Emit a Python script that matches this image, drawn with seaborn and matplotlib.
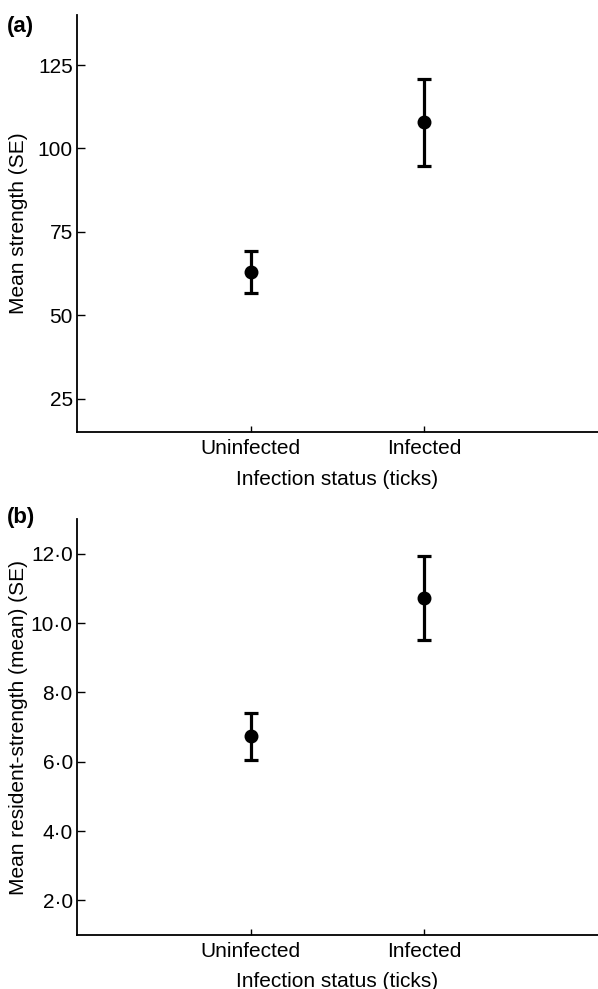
import matplotlib
matplotlib.use("Agg")
import matplotlib.pyplot as plt
import seaborn as sns
import pandas as pd
from matplotlib.ticker import FuncFormatter

# Values
status = ["Uninfected", "Infected"]
strength_mean = [63.0, 107.8]
strength_se = [6.3, 13.0]
resident_mean = [6.73, 10.72]
resident_se = [0.67, 1.22]

sns.set_style("white")
plt.rcParams["font.family"] = ["Liberation Sans", "DejaVu Sans"]
plt.rcParams["font.size"] = 15
for key in ["text.color", "axes.labelcolor", "xtick.color", "ytick.color"]:
    plt.rcParams[key] = "black"

FS = 15


def draw_panel(ax, means, ses, ylabel, yticks, ylim, fmt, xlab_y):
    df = pd.DataFrame({"status": status, "value": means})
    sns.pointplot(
        data=df, x="status", y="value", order=status, color="black",
        linestyle="none", markers="o", errorbar=None, ax=ax,
        markersize=8, zorder=3,
    )
    ax.errorbar(
        range(len(status)), means, yerr=ses, fmt="none", ecolor="black",
        elinewidth=2.3, capsize=4.7, capthick=2.3, zorder=2,
    )
    ax.set_xlim(-1, 2)
    ax.set_ylim(*ylim)
    ax.set_yticks(yticks)
    ax.yaxis.set_major_formatter(FuncFormatter(fmt))
    ax.set_ylabel(ylabel, fontsize=FS)
    ax.set_xlabel("Infection status (ticks)", fontsize=FS)
    ax.yaxis.set_label_coords(-0.094, 0.5)
    ax.xaxis.set_label_coords(0.5, xlab_y)
    sns.despine(ax=ax)
    for s in ["left", "bottom"]:
        ax.spines[s].set_color("black")
        ax.spines[s].set_linewidth(1.3)
    ax.tick_params(axis="y", direction="in", length=6, width=1, pad=3,
                   labelsize=FS, left=True)
    ax.tick_params(axis="x", direction="in", length=4, width=1, pad=5,
                   labelsize=FS, bottom=True)


fig = plt.figure(figsize=(5.98, 9.89), dpi=100)
ax1 = fig.add_axes([0.1288, 0.5632, 0.8712, 0.4216])
ax2 = fig.add_axes([0.1288, 0.0546, 0.8712, 0.4206])

draw_panel(ax1, strength_mean, strength_se, "Mean strength (SE)",
           [25, 50, 75, 100, 125], (15, 140), lambda v, p: f"{v:.0f}", -0.09)
draw_panel(ax2, resident_mean, resident_se, "Mean resident-strength (mean) (SE)",
           [2, 4, 6, 8, 10, 12], (1, 13),
           lambda v, p: f"{v:.1f}".replace(".", "\u00b7"), -0.089)

fig.text(0.012, 0.9735, "(a)", fontsize=16, fontweight="bold", va="center")
fig.text(0.012, 0.4765, "(b)", fontsize=16, fontweight="bold", va="center")

fig.savefig("out.png", dpi=100)
